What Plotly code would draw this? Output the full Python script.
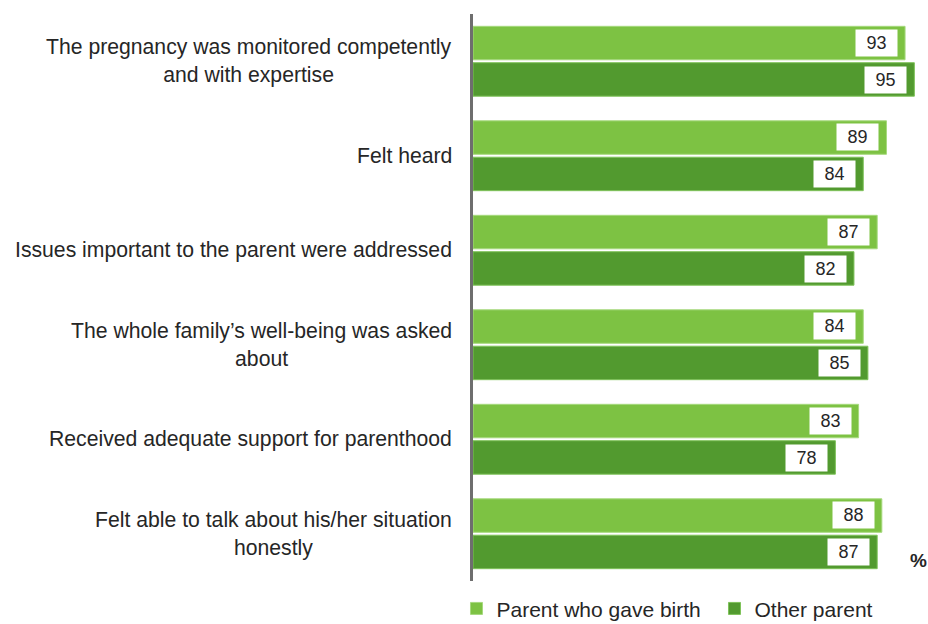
import plotly.graph_objects as go

# Survey statements (top to bottom) and share agreeing, %
statements = [
    "The pregnancy was monitored competently<br>and with expertise",
    "Felt heard",
    "Issues important to the parent were addressed",
    "The whole family\u2019s well-being was asked<br>about",
    "Received adequate support for parenthood",
    "Felt able to talk about his/her situation<br>honestly",
]
birth_parent = [93, 89, 87, 84, 83, 88]
other_parent = [95, 84, 82, 85, 78, 87]
series_names = ["Parent who gave birth", "Other parent"]

LIGHT = "#7DC243"
DARK = "#529A2F"
FONT = "Liberation Sans, Arial, sans-serif"
TEXT = "#262626"

fig = go.Figure()
fig.add_trace(go.Bar(
    y=statements, x=birth_parent, orientation="h", name=series_names[0],
    marker=dict(color=LIGHT, line=dict(color="#A6D97E", width=1)),
    hoverinfo="skip",
))
fig.add_trace(go.Bar(
    y=statements, x=other_parent, orientation="h", name=series_names[1],
    marker=dict(color=DARK, line=dict(color="#7FC25A", width=1)),
    hoverinfo="skip",
))

annotations = []
# value boxes inside the bar ends
for vals, shift in ((birth_parent, -18.5), (other_parent, 18.5)):
    for cat, v in zip(statements, vals):
        annotations.append(dict(
            x=v, y=cat, xref="x", yref="y", text=str(v),
            xanchor="right", yanchor="middle", xshift=-7, yshift=-shift,
            showarrow=False, bgcolor="white", borderpad=2, width=37, height=22,
            align="center", valign="middle",
            font=dict(family=FONT, size=18, color=TEXT),
        ))
# category labels, lines centred on each other
for cat in statements:
    annotations.append(dict(
        x=0, y=cat, xref="paper", yref="y", text=cat,
        xanchor="right", yanchor="middle", xshift=-19,
        showarrow=False, align="center",
        font=dict(family=FONT, size=21.2, color=TEXT),
    ))
annotations.append(dict(
    x=0.998, y=0.037, xref="paper", yref="paper", text="<b>%</b>",
    xanchor="center", yanchor="middle",
    showarrow=False, font=dict(family=FONT, size=19, color=TEXT),
))

fig.update_layout(
    width=928, height=624,
    margin=dict(l=473, r=9, t=14, b=43, autoexpand=False),
    paper_bgcolor="white", plot_bgcolor="white",
    barmode="group", bargap=0.23, bargroupgap=0.08,
    xaxis=dict(range=[0, 96], visible=False, fixedrange=True),
    yaxis=dict(autorange="reversed", showticklabels=False, ticks="",
               showline=True, linewidth=3, linecolor="#6E6E6E",
               showgrid=False, zeroline=False),
    legend=dict(orientation="h", x=-0.037, xanchor="left", y=-0.049,
                yanchor="middle", font=dict(family=FONT, size=21, color=TEXT),
                itemwidth=30, traceorder="normal",
                entrywidth=213, entrywidthmode="pixels"),
    annotations=annotations,
    font=dict(family=FONT),
)

fig.write_html("out.html")
